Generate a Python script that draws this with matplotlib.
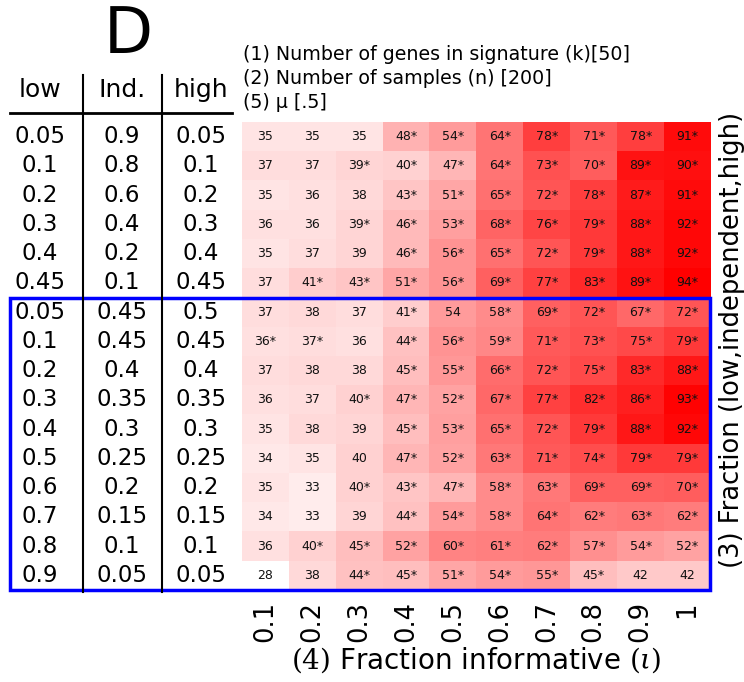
import numpy as np
import matplotlib
matplotlib.use("Agg")
import matplotlib.pyplot as plt
from matplotlib.colors import LinearSegmentedColormap
from matplotlib.transforms import blended_transform_factory
from matplotlib.patches import Rectangle
from matplotlib.lines import Line2D

plt.rcParams['font.family'] = ['DejaVu Sans']
plt.rcParams['mathtext.fontset'] = 'dejavuserif'

frac_informative = ["0.1", "0.2", "0.3", "0.4", "0.5", "0.6", "0.7", "0.8", "0.9", "1"]
low_frac = ["0.05", "0.1", "0.2", "0.3", "0.4", "0.45", "0.05", "0.1", "0.2", "0.3", "0.4", "0.5", "0.6", "0.7", "0.8", "0.9"]
ind_frac = ["0.9", "0.8", "0.6", "0.4", "0.2", "0.1", "0.45", "0.45", "0.4", "0.35", "0.3", "0.25", "0.2", "0.15", "0.1", "0.05"]
high_frac = ["0.05", "0.1", "0.2", "0.3", "0.4", "0.45", "0.5", "0.45", "0.4", "0.35", "0.3", "0.25", "0.2", "0.15", "0.1", "0.05"]

values = np.array([
    [35, 35, 35, 48, 54, 64, 78, 71, 78, 91],
    [37, 37, 39, 40, 47, 64, 73, 70, 89, 90],
    [35, 36, 38, 43, 51, 65, 72, 78, 87, 91],
    [36, 36, 39, 46, 53, 68, 76, 79, 88, 92],
    [35, 37, 39, 46, 56, 65, 72, 79, 88, 92],
    [37, 41, 43, 51, 56, 69, 77, 83, 89, 94],
    [37, 38, 37, 41, 54, 58, 69, 72, 67, 72],
    [36, 37, 36, 44, 56, 59, 71, 73, 75, 79],
    [37, 38, 38, 45, 55, 66, 72, 75, 83, 88],
    [36, 37, 40, 47, 52, 67, 77, 82, 86, 93],
    [35, 38, 39, 45, 53, 65, 72, 79, 88, 92],
    [34, 35, 40, 47, 52, 63, 71, 74, 79, 79],
    [35, 33, 40, 43, 47, 58, 63, 69, 69, 70],
    [34, 33, 39, 44, 54, 58, 64, 62, 63, 62],
    [36, 40, 45, 52, 60, 61, 62, 57, 54, 52],
    [28, 38, 44, 45, 51, 54, 55, 45, 42, 42],
])

significant = np.array([
    [0, 0, 0, 1, 1, 1, 1, 1, 1, 1],
    [0, 0, 1, 1, 1, 1, 1, 1, 1, 1],
    [0, 0, 0, 1, 1, 1, 1, 1, 1, 1],
    [0, 0, 1, 1, 1, 1, 1, 1, 1, 1],
    [0, 0, 0, 1, 1, 1, 1, 1, 1, 1],
    [0, 1, 1, 1, 1, 1, 1, 1, 1, 1],
    [0, 0, 0, 1, 0, 1, 1, 1, 1, 1],
    [1, 1, 0, 1, 1, 1, 1, 1, 1, 1],
    [0, 0, 0, 1, 1, 1, 1, 1, 1, 1],
    [0, 0, 1, 1, 1, 1, 1, 1, 1, 1],
    [0, 0, 0, 1, 1, 1, 1, 1, 1, 1],
    [0, 0, 0, 1, 1, 1, 1, 1, 1, 1],
    [0, 0, 1, 1, 1, 1, 1, 1, 1, 1],
    [0, 0, 0, 1, 1, 1, 1, 1, 1, 1],
    [0, 1, 1, 1, 1, 1, 1, 1, 1, 1],
    [0, 0, 1, 1, 1, 1, 1, 1, 0, 0],
], dtype=bool)

param_lines = ["(1) Number of genes in signature (k)[50]",
               "(2) Number of samples (n) [200]",
               "(5) \u03bc [.5]"]

W, H = 744, 682
fig = plt.figure(figsize=(W / 100, H / 100), dpi=100)

def fx(px):
    return px / W

def fy(py):
    return 1 - py / H

ax = fig.add_axes([fx(242), fy(590), fx(711) - fx(242), (590 - 122) / H])
cmap = LinearSegmentedColormap.from_list("wr", ["#ffffff", "#ff0000"])
ax.imshow(values, cmap=cmap, vmin=values.min(), vmax=values.max(), aspect='auto',
          interpolation='nearest')
nr, nc = values.shape
for i in range(nr):
    for j in range(nc):
        s = f"{values[i, j]}" + ("*" if significant[i, j] else "")
        ax.text(j, i, s, ha='center', va='center', fontsize=9, color='#111111')

ax.set_xticks(range(nc))
ax.set_xticklabels(frac_informative, rotation=90, fontsize=18.5)
ax.tick_params(axis='x', length=0, pad=8)
ax.set_yticks([])
for sp in ax.spines.values():
    sp.set_visible(False)
ax.set_xlabel(r"$(4)$ Fraction informative $(\iota)$", fontsize=20, labelpad=2)
ax.yaxis.set_label_position('right')
ax.set_ylabel("(3) Fraction (low,independent,high)", fontsize=18.5)
ax.yaxis.set_label_coords(1.018, 0.535)

# left table
tr = blended_transform_factory(fig.transFigure, ax.transData)
col_x = [fx(40), fx(122), fx(201)]
for i in range(nr):
    for x, col in zip(col_x, [low_frac, ind_frac, high_frac]):
        fig.text(x, i, col[i], transform=tr, ha='center', va='center', fontsize=16.5)

for x, lab in zip(col_x, ["low", "Ind.", "high"]):
    fig.text(x, fy(90), lab, ha='center', va='center', fontsize=18)
fig.text(fx(128), fy(35), "D", ha='center', va='center', fontsize=46)

fig.add_artist(Line2D([fx(10), fx(232)], [fy(113), fy(113)], color='black', lw=2,
                      transform=fig.transFigure))
for xv in [83, 162]:
    fig.add_artist(Line2D([fx(xv), fx(xv)], [fy(75), fy(592)], color='black', lw=1.5,
                          transform=fig.transFigure))

# parameter text
for k, line in enumerate(param_lines):
    fig.text(fx(243), fy(55 + 24 * k), line, ha='left', va='center', fontsize=13.7)

# blue highlight box
rect = Rectangle((fx(10), 5.5), fx(710) - fx(10), 10.0, transform=tr, fill=False,
                 edgecolor='blue', lw=2.5, clip_on=False)
fig.add_artist(rect)

fig.savefig("out.png", dpi=100)
